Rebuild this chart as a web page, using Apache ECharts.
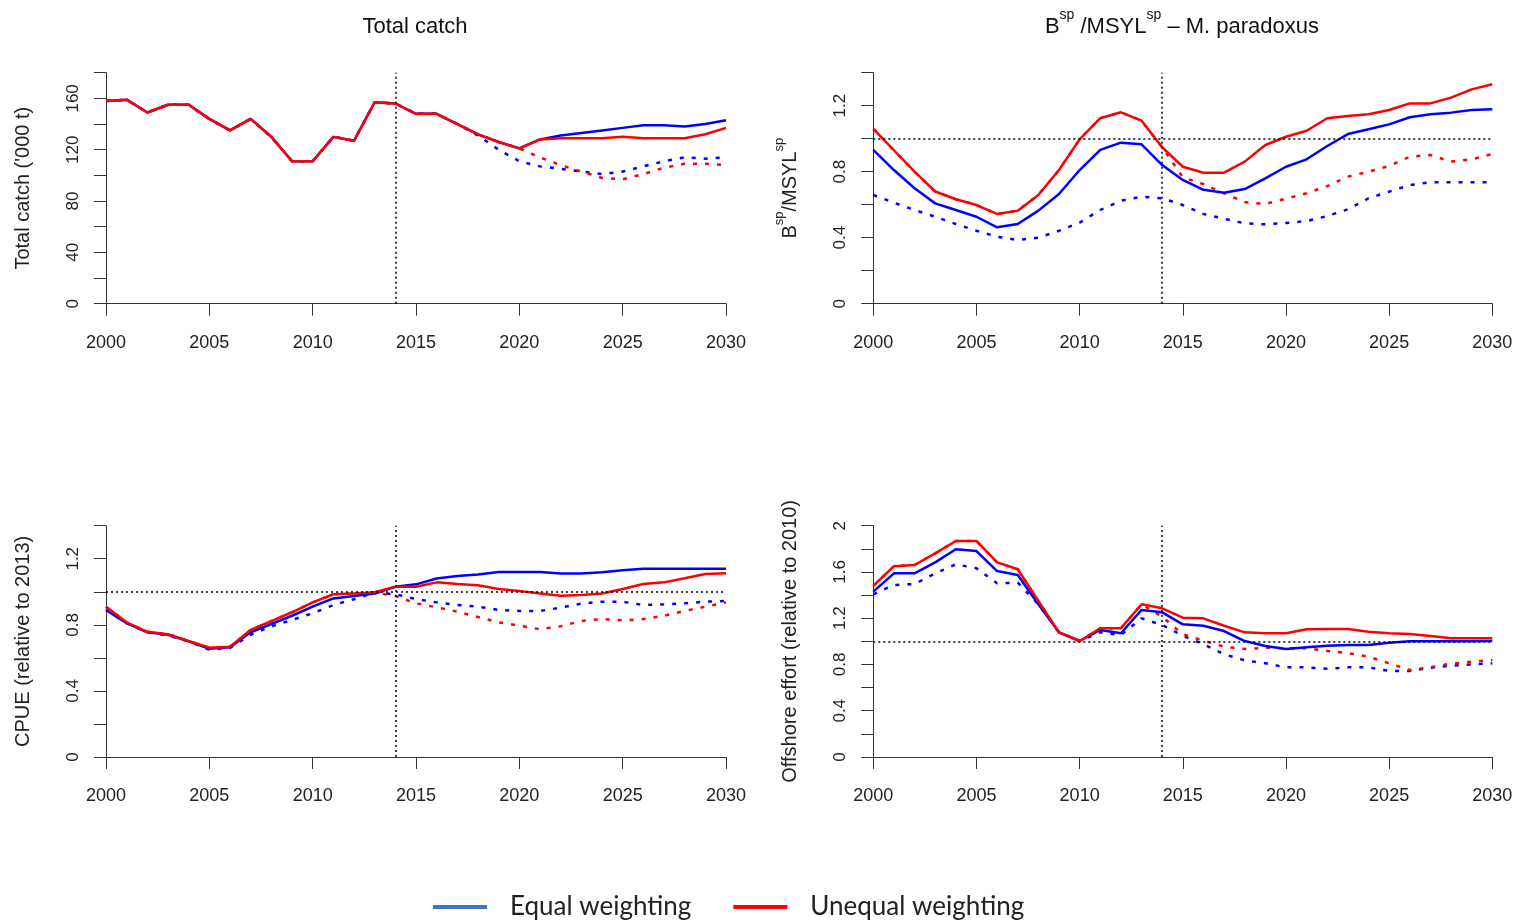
<!DOCTYPE html>
<html><head><meta charset="utf-8">
<script src="https://cdn.jsdelivr.net/npm/echarts@6/dist/echarts.min.js"></script>
<style>html,body{margin:0;padding:0;background:#fff}#c{width:1516px;height:920px}</style>
</head><body><div id="c"></div><script>
const years = [2000,2001,2002,2003,2004,2005,2006,2007,2008,2009,2010,2011,2012,2013,2014,2015,2016,2017,2018,2019,2020,2021,2022,2023,2024,2025,2026,2027,2028,2029,2030];
const xTicks = [2000,2005,2010,2015,2020,2025,2030];

// Panel 1: Total catch ('000 t)
const catchEqual      = [158,159,149,155,155,144,135,144,130,111,111,130,127,157,156,148,148,140,132,126,121,128,131,133,135,137,139,139,138,140,143];
const catchEqualAlt   = [158,159,149,155,155,144,135,144,130,111,111,130,127,157,156,148,148,140,131,120,111,107,105,103,101,103,107,111,114,113,114];
const catchUnequal    = [158,159,149,155,155,144,135,144,130,111,111,130,127,157,156,148,148,140,132,126,121,128,129,129,129,130,129,129,129,132,137];
const catchUnequalAlt = [158,159,149,155,155,144,135,144,130,111,111,130,127,157,156,148,148,140,132,126,121,114,108,103,98,97,101,106,109,109,108];

// Panel 2: Bsp/MSYLsp - M. paradoxus
const bEqual      = [0.932,0.81,0.70,0.608,0.568,0.527,0.463,0.483,0.564,0.665,0.81,0.932,0.976,0.966,0.84,0.75,0.69,0.673,0.695,0.76,0.83,0.875,0.956,1.028,1.057,1.087,1.13,1.148,1.158,1.174,1.178];
const bEqualAlt   = [0.659,0.612,0.568,0.527,0.483,0.442,0.406,0.386,0.40,0.442,0.491,0.568,0.624,0.648,0.639,0.598,0.544,0.515,0.487,0.481,0.489,0.501,0.531,0.572,0.639,0.679,0.719,0.736,0.736,0.736,0.736];
const bUnequal    = [1.06,0.93,0.80,0.68,0.633,0.598,0.544,0.564,0.659,0.81,0.996,1.124,1.16,1.109,0.948,0.83,0.794,0.794,0.861,0.962,1.012,1.048,1.124,1.138,1.148,1.174,1.214,1.214,1.249,1.299,1.33];
const bUnequalAlt = [1.06,0.93,0.80,0.68,0.633,0.598,0.544,0.564,0.659,0.81,0.996,1.124,1.16,1.109,0.948,0.766,0.725,0.669,0.616,0.604,0.636,0.669,0.713,0.77,0.80,0.835,0.891,0.901,0.861,0.875,0.907];

// Panel 3: CPUE (relative to 2013)
const cpueEqual      = [0.89,0.81,0.755,0.74,0.70,0.655,0.665,0.755,0.805,0.855,0.91,0.96,0.975,0.99,1.03,1.045,1.08,1.095,1.105,1.12,1.12,1.12,1.11,1.11,1.118,1.13,1.14,1.14,1.14,1.14,1.14];
const cpueEqualAlt   = [0.89,0.81,0.755,0.735,0.70,0.65,0.66,0.74,0.79,0.83,0.87,0.92,0.955,0.995,0.985,0.956,0.936,0.92,0.91,0.89,0.884,0.884,0.904,0.928,0.94,0.94,0.92,0.924,0.93,0.94,0.944];
const cpueUnequal    = [0.91,0.815,0.758,0.743,0.702,0.662,0.668,0.769,0.823,0.876,0.936,0.985,0.989,0.997,1.031,1.03,1.057,1.047,1.04,1.017,1.005,0.99,0.976,0.98,0.99,1.017,1.047,1.057,1.082,1.108,1.112];
const cpueUnequalAlt = [0.91,0.815,0.758,0.743,0.702,0.662,0.668,0.769,0.823,0.876,0.936,0.985,0.989,0.997,0.975,0.93,0.906,0.88,0.847,0.815,0.795,0.773,0.791,0.823,0.835,0.827,0.835,0.855,0.884,0.91,0.936];

// Panel 4: Offshore effort (relative to 2010)
const effEqual      = [1.43,1.588,1.588,1.683,1.796,1.781,1.608,1.574,1.32,1.078,1.003,1.098,1.07,1.271,1.251,1.147,1.135,1.089,1.003,0.96,0.934,0.949,0.962,0.968,0.968,0.988,1.0,1.0,1.0,1.0,1.003];
const effEqualAlt   = [1.407,1.487,1.496,1.588,1.666,1.632,1.502,1.507,1.32,1.078,1.003,1.078,1.055,1.199,1.141,1.049,0.974,0.888,0.836,0.81,0.775,0.775,0.764,0.775,0.775,0.744,0.744,0.772,0.79,0.80,0.81];
const effUnequal    = [1.479,1.65,1.66,1.761,1.868,1.868,1.683,1.623,1.349,1.078,1.003,1.113,1.113,1.32,1.286,1.205,1.199,1.135,1.078,1.07,1.07,1.104,1.107,1.107,1.084,1.07,1.064,1.046,1.026,1.026,1.026];
const effUnequalAlt = [1.479,1.65,1.66,1.761,1.868,1.868,1.683,1.623,1.349,1.078,1.003,1.113,1.113,1.32,1.213,1.061,1.006,0.954,0.934,0.945,0.94,0.94,0.917,0.899,0.867,0.81,0.752,0.776,0.807,0.824,0.839];

const projStart = 2014;
const refLevel = 1;

const FONT = '"Liberation Sans", Arial, sans-serif';
const BLUE = '#0000ff', RED = '#ff0000';
const DOT = [4, 8];

const grids = [
  {left:106, top:72.7, width:620, height:231},
  {left:873.3, top:72.7, width:619, height:231},
  {left:106, top:525.7, width:620, height:231.3},
  {left:873.3, top:525.7, width:619, height:231.3}
];

function xAx(i){
  return {type:'value', gridIndex:i, min:xTicks[0], max:xTicks[xTicks.length-1], interval:5,
    axisLine:{show:true, onZero:false, lineStyle:{color:'#333', width:1}},
    axisTick:{show:true, length:12, lineStyle:{color:'#333', width:1}},
    axisLabel:{fontSize:18, margin:30, color:'#222', fontFamily:FONT, formatter:v=>String(v)},
    splitLine:{show:false}};
}
function yAx(i, max, interval, labelEvery, name, rich){
  return {type:'value', gridIndex:i, min:0, max:max, interval:interval,
    axisLine:{show:true, onZero:false, lineStyle:{color:'#333', width:1}},
    axisTick:{show:true, length:12, lineStyle:{color:'#333', width:1}},
    axisLabel:{fontSize:17, margin:24, rotate:90, color:'#222', fontFamily:FONT,
      formatter:v=>{const r=Math.round(v/interval); return r%labelEvery===0 ? String(Math.round(v*100)/100) : '';}},
    splitLine:{show:false},
    name:name, nameLocation:'middle', nameRotate:90, nameGap:73,
    nameTextStyle:Object.assign({fontSize:20, color:'#222', fontFamily:FONT}, rich?{rich:rich}:{})};
}

function pts(arr){ return years.map((y,k)=>[y, arr[k]]); }
function ser(i, arr, color, dotted, extra){
  return Object.assign({type:'line', xAxisIndex:i, yAxisIndex:i, data:pts(arr), showSymbol:false, symbol:'none',
    silent:true, animation:false, lineStyle:{color:color, width:2.5, type:dotted?DOT:'solid', cap:'butt'}, z:dotted?2:3}, extra||{});
}
function refs(withH){
  const d=[{xAxis:projStart}];
  if(withH) d.push({yAxis:refLevel});
  return {markLine:{silent:true, symbol:['none','none'], label:{show:false}, animation:false,
    lineStyle:{color:'#000', width:1.5, type:[2,3]}, data:d}};
}

const supRich = {b:{fontSize:20, fontFamily:FONT, color:'#222', padding:[7,0,0,0]}, s:{fontSize:13, fontFamily:FONT, color:'#222', verticalAlign:'top'}};

const series = [];
const panels = [
  [catchEqual, catchEqualAlt, catchUnequal, catchUnequalAlt, false],
  [bEqual, bEqualAlt, bUnequal, bUnequalAlt, true],
  [cpueEqual, cpueEqualAlt, cpueUnequal, cpueUnequalAlt, true],
  [effEqual, effEqualAlt, effUnequal, effUnequalAlt, true]
];
panels.forEach((p,i)=>{
  series.push(ser(i, p[1], BLUE, true, refs(p[4])));
  series.push(ser(i, p[0], BLUE, false));
  series.push(ser(i, p[3], RED, true));
  series.push(ser(i, p[2], RED, false));
});
series.push({type:'line', name:'Equal weighting', xAxisIndex:0, yAxisIndex:0, data:[], color:'#4472C4', lineStyle:{color:'#4472C4'}});
series.push({type:'line', name:'Unequal weighting', xAxisIndex:0, yAxisIndex:0, data:[], color:'#ff0000', lineStyle:{color:'#ff0000'}});

const chart = echarts.init(document.getElementById('c'), null, {renderer:'canvas'});
chart.setOption({
  backgroundColor:'#fff',
  animation:false,
  grid:grids,
  xAxis:[xAx(0), xAx(1), xAx(2), xAx(3)],
  yAxis:[
    yAx(0, 180, 20, 2, "Total catch ('000 t)"),
    yAx(1, 1.4, 0.2, 2, '{b|B}{s|sp}{b|/MSYL}{s|sp}', supRich),
    yAx(2, 1.4, 0.2, 2, 'CPUE (relative to 2013)'),
    yAx(3, 2, 0.2, 2, 'Offshore effort (relative to 2010)')
  ],
  legend:{data:['Equal weighting','Unequal weighting'], left:428, top:889, icon:'rect', itemWidth:54, itemHeight:4, itemGap:42,
    textStyle:{fontSize:26, fontFamily:'Lato, "Open Sans", sans-serif', color:'#222', padding:[0,0,0,18]}, selectedMode:false},
  graphic:[
    {type:'text', x:415, y:27, style:{text:'Total catch', fontSize:22, fontFamily:FONT, fill:'#111', align:'center', verticalAlign:'middle'}},
    {type:'text', x:1182, y:23, style:{text:'{t|B}{s|sp}{t| /MSYL}{s|sp}{t| – M. paradoxus}', align:'center', verticalAlign:'middle',
      rich:{t:{fontSize:22, fontFamily:FONT, fill:'#111', padding:[7,0,0,0]}, s:{fontSize:14, fontFamily:FONT, fill:'#111', verticalAlign:'top'}}}}
  ],
  series:series
});
</script></body></html>
